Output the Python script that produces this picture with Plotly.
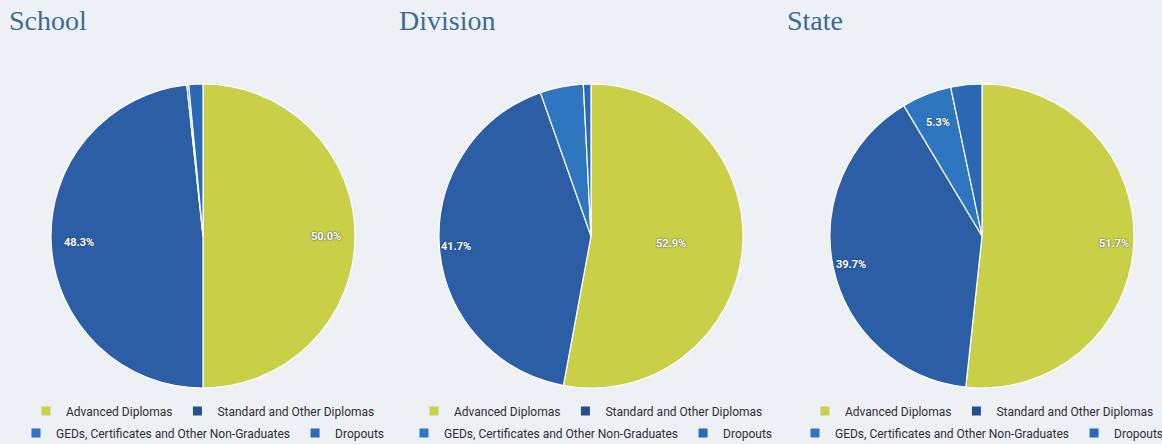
import math
import plotly.graph_objects as go

# Outcome categories (clockwise from 12 o'clock)
categories = [
    "Advanced Diplomas",
    "Standard and Other Diplomas",
    "GEDs, Certificates and Other Non-Graduates",
    "Dropouts",
]

# Percent of cohort by outcome
school_pct = [50.0, 48.3, 0.2, 1.5]
division_pct = [52.9, 41.7, 4.6, 0.8]
state_pct = [51.7, 39.7, 5.3, 3.3]

panel_titles = ["School", "Division", "State"]

# ---- styling -------------------------------------------------------------
W, H = 1162, 444
BG = "#edf1f6"
slice_colors = ["#c9d048", "#2c5ea6", "#2f76c0", "#2b6ab3"]
legend_colors = ["#c9d048", "#254f8c", "#2f76c0", "#2b6ab3"]
title_color = "#3a6b95"
legend_font = dict(family="Roboto, Arial, sans-serif", size=12, color="#2e2e2e")
label_font = dict(family="Roboto, Arial, sans-serif", size=11, color="#ffffff",
                  weight="bold")
MIN_LABEL_PCT = 5.0     # smaller slices are left unlabelled

# label distance from the centre along each slice's mid-angle (fraction of radius)
label_radius = [
    [0.81, 0.82, 0.8, 0.8],
    [0.53, 0.89, 0.8, 0.8],
    [0.87, 0.88, 0.8, 0.8],
]

centers_x = [203, 591, 982]   # pie centres (px)
center_y = 236
radius = 152
row_y = [411, 433]            # legend rows (px from top)
title_x = [7, 397, 785]
title_y = 21

panels = [school_pct, division_pct, state_pct]


def px_to_paper_x(x):
    return x / W


def px_to_paper_y(y):
    return 1 - y / H


fig = go.Figure()
annotations = []
legend_layouts = {}

for i, (name, pct) in enumerate(zip(panel_titles, panels)):
    cx = centers_x[i]
    dom_x = [px_to_paper_x(cx - radius), px_to_paper_x(cx + radius)]
    dom_y = [px_to_paper_y(center_y + radius), px_to_paper_y(center_y - radius)]

    fig.add_trace(go.Pie(
        labels=categories,
        values=pct,
        sort=False,
        direction="clockwise",
        rotation=0,
        marker=dict(colors=slice_colors, line=dict(color="#ffffff", width=1.2)),
        textinfo="none",
        hoverinfo="label+percent",
        showlegend=False,
        domain=dict(x=dom_x, y=dom_y),
        name=name,
    ))

    # Percentage labels placed along each slice's mid-angle
    total = sum(pct)
    cum = 0.0
    for j, v in enumerate(pct):
        mid = (cum + v / 2) / total * 2 * math.pi
        cum += v
        if v < MIN_LABEL_PCT:
            continue
        k = label_radius[i][j]
        lx = cx + k * radius * math.sin(mid)
        ly = center_y - k * radius * math.cos(mid)
        annotations.append(dict(
            x=px_to_paper_x(lx), y=px_to_paper_y(ly),
            xref="paper", yref="paper",
            text=f"{v:.1f}%", showarrow=False,
            xanchor="center", yanchor="middle",
            font=dict(label_font, shadow="0px 0px 2px #1d3557"),
        ))

    # Panel title
    annotations.append(dict(
        x=px_to_paper_x(title_x[i]), y=px_to_paper_y(title_y),
        xref="paper", yref="paper", text=name, showarrow=False,
        xanchor="left", yanchor="middle",
        font=dict(family="Liberation Serif, Georgia, serif", size=28,
                  color=title_color),
    ))

    # Two-row legend under each pie (one legend box per row)
    for row in range(2):
        leg_name = "legend" if (i == 0 and row == 0) else f"legend{2 * i + row + 1}"
        for k in (2 * row, 2 * row + 1):
            fig.add_trace(go.Scatter(
                x=[None], y=[None],
                mode="markers",
                name=categories[k],
                marker=dict(symbol="square", size=9, color=legend_colors[k]),
                showlegend=True,
                legend=leg_name,
                hoverinfo="skip",
            ))
        legend_layouts[leg_name] = dict(
            orientation="h",
            x=px_to_paper_x(cx), xanchor="center",
            y=px_to_paper_y(row_y[row]), yanchor="middle",
            font=legend_font,
            bgcolor="rgba(0,0,0,0)",
            borderwidth=0,
            itemclick=False, itemdoubleclick=False,
            itemwidth=30,
        )

fig.update_layout(
    width=W, height=H,
    margin=dict(l=0, r=0, t=0, b=0, autoexpand=False),
    paper_bgcolor=BG,
    plot_bgcolor="rgba(0,0,0,0)",
    xaxis=dict(visible=False),
    yaxis=dict(visible=False),
    annotations=annotations,
    **legend_layouts,
)

fig.write_html("out.html")
